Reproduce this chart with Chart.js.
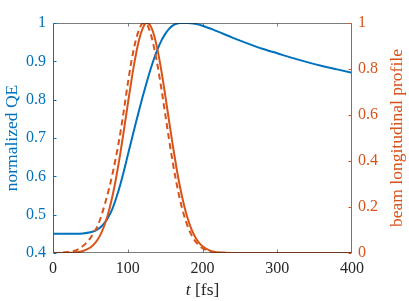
<!DOCTYPE html>
<html>
<head>
<meta charset="utf-8">
<script src="https://cdn.jsdelivr.net/npm/chart.js@4.4.0/dist/chart.umd.min.js"></script>
<style>
    html, body { margin: 0; padding: 0; background: #ffffff; }
    #wrap { width: 409px; height: 301px; }
</style>
</head>
<body>
<div id="wrap"><canvas id="qeChart" width="409" height="301"></canvas></div>
<script>
// tiempo [fs] y QE normalizada (eje izquierdo)
const tQE = [0, 10, 20, 30, 40, 50, 55, 60, 65, 70, 75, 80, 85, 90, 95, 100, 105, 110, 115, 120,
    125, 130, 135, 140, 145, 150, 155, 160, 165, 170, 175, 180, 190, 200, 220, 240, 260, 280, 300,
    320, 340, 360, 380, 400];
const qeValues = [0.450, 0.450, 0.450, 0.450, 0.451, 0.454, 0.457, 0.462, 0.470, 0.481, 0.497, 0.518,
    0.546, 0.578, 0.615, 0.655, 0.694, 0.733, 0.771, 0.808, 0.843, 0.876, 0.906, 0.932, 0.954, 0.971,
    0.984, 0.993, 0.998, 1.000, 1.000, 1.000, 0.998, 0.993, 0.978, 0.962, 0.947, 0.933, 0.921, 0.909,
    0.898, 0.888, 0.879, 0.870];

// perfil longitudinal del haz (eje derecho)
const tBeam = [0, 10, 20, 30, 40, 50, 55, 60, 65, 70, 75, 80, 85, 90, 95, 100, 105, 110, 115, 120,
    125, 130, 135, 140, 145, 150, 155, 160, 165, 170, 175, 180, 185, 190, 195, 200, 210, 220, 230,
    240, 260, 300, 350, 400];
const beamSolid = [0, 0.0002, 0.0007, 0.0026, 0.0084, 0.0238, 0.0383, 0.0597, 0.090, 0.1315, 0.186,
    0.254, 0.337, 0.432, 0.537, 0.646, 0.752, 0.847, 0.925, 0.977, 1.000, 0.990, 0.949, 0.881, 0.792,
    0.689, 0.580, 0.473, 0.374, 0.286, 0.212, 0.152, 0.105, 0.071, 0.046, 0.029, 0.0104, 0.0033,
    0.0009, 0.0002, 0, 0, 0, 0];
const beamDashed = [0, 0.001, 0.004, 0.011, 0.030, 0.065, 0.090, 0.120, 0.165, 0.220, 0.280, 0.350,
    0.430, 0.520, 0.625, 0.735, 0.835, 0.915, 0.970, 0.998, 0.995, 0.960, 0.897, 0.813, 0.714, 0.607,
    0.499, 0.398, 0.308, 0.230, 0.167, 0.118, 0.080, 0.053, 0.034, 0.021, 0.0072, 0.0022, 0.0006,
    0.0001, 0, 0, 0, 0];

// marcas de los ejes
const xTicks = [0, 100, 200, 300, 400];
const qeTicks = [0.4, 0.5, 0.6, 0.7, 0.8, 0.9, 1];
const beamTicks = [0, 0.2, 0.4, 0.6, 0.8, 1];

const azul = "#0072BD";
const naranja = "#D95319";
const gris = "#262626";
const fuente = "'Liberation Serif', 'DejaVu Serif', serif";

function pares(xs, ys) {
    return xs.map((x, i) => ({ x: x, y: ys[i] }));
}

// marco, marcas internas y títulos de los ejes
const marcoPlugin = {
    id: "marco",
    afterDatasetsDraw(chart) {
        const ctx = chart.ctx;
        const a = chart.chartArea;
        const sx = chart.scales.x, sy = chart.scales.y, sy1 = chart.scales.y1;
        const L = a.left + 0.5, R = a.right - 0.5, T = a.top + 0.5, B = a.bottom - 0.5;
        const tick = 3;
        ctx.save();
        ctx.lineWidth = 1;

        ctx.strokeStyle = "rgba(38,38,38,0.6)";
        ctx.beginPath();
        ctx.moveTo(L, T); ctx.lineTo(R, T);
        ctx.moveTo(L, B); ctx.lineTo(R, B);
        xTicks.forEach(v => {
            if (v === xTicks[0] || v === xTicks[xTicks.length - 1]) return;
            const px = Math.round(sx.getPixelForValue(v)) + 0.5;
            ctx.moveTo(px, B); ctx.lineTo(px, B - tick);
            ctx.moveTo(px, T); ctx.lineTo(px, T + tick);
        });
        ctx.stroke();

        ctx.strokeStyle = azul;
        ctx.beginPath();
        ctx.moveTo(L, T); ctx.lineTo(L, B);
        qeTicks.forEach(v => {
            const py = Math.round(sy.getPixelForValue(v)) + 0.5;
            ctx.moveTo(L, py); ctx.lineTo(L + tick, py);
        });
        ctx.stroke();

        ctx.strokeStyle = naranja;
        ctx.beginPath();
        ctx.moveTo(R, T); ctx.lineTo(R, B);
        beamTicks.forEach(v => {
            const py = Math.round(sy1.getPixelForValue(v)) + 0.5;
            ctx.moveTo(R, py); ctx.lineTo(R - tick, py);
        });
        ctx.stroke();

        // títulos
        const midY = (a.top + a.bottom) / 2;
        ctx.textBaseline = "middle";
        ctx.textAlign = "center";
        ctx.font = "17.5px " + fuente;

        ctx.save();
        ctx.fillStyle = azul;
        ctx.translate(12, midY);
        ctx.rotate(-Math.PI / 2);
        ctx.fillText("normalized QE", 0, 0);
        ctx.restore();

        ctx.save();
        ctx.fillStyle = naranja;
        ctx.translate(397, midY);
        ctx.rotate(-Math.PI / 2);
        ctx.fillText("beam longitudinal profile", 0, 0);
        ctx.restore();

        // "t [fs]" con la t en cursiva
        ctx.fillStyle = gris;
        ctx.textAlign = "left";
        const fItal = "italic 17.5px " + fuente;
        const fNorm = "17.5px " + fuente;
        ctx.font = fItal;
        const w1 = ctx.measureText("t").width;
        ctx.font = fNorm;
        const w2 = ctx.measureText(" [fs]").width;
        const x0 = (a.left + a.right) / 2 - (w1 + w2) / 2;
        ctx.font = fItal;
        ctx.fillText("t", x0, 290);
        ctx.font = fNorm;
        ctx.fillText(" [fs]", x0 + w1, 290);

        ctx.restore();
    }
};

const ctx = document.getElementById("qeChart").getContext("2d");
new Chart(ctx, {
    type: "line",
    data: {
        datasets: [
            {
                label: "QE",
                data: pares(tQE, qeValues),
                yAxisID: "y",
                borderColor: azul,
                borderWidth: 2,
                pointRadius: 0,
                cubicInterpolationMode: "monotone",
                order: 3
            },
            {
                label: "perfil (línea)",
                data: pares(tBeam, beamSolid),
                yAxisID: "y1",
                borderColor: naranja,
                borderWidth: 2,
                pointRadius: 0,
                cubicInterpolationMode: "monotone",
                order: 2
            },
            {
                label: "perfil (trazos)",
                data: pares(tBeam, beamDashed),
                yAxisID: "y1",
                borderColor: naranja,
                borderWidth: 2,
                borderDash: [6, 4],
                pointRadius: 0,
                cubicInterpolationMode: "monotone",
                order: 1
            }
        ]
    },
    options: {
        responsive: false,
        animation: false,
        devicePixelRatio: 1,
        layout: { padding: { top: 23, left: 0, right: 0, bottom: 0 } },
        plugins: {
            legend: { display: false },
            tooltip: { enabled: false },
            title: { display: false }
        },
        scales: {
            x: {
                type: "linear",
                min: 0,
                max: 400,
                grid: { display: false, drawTicks: false },
                border: { display: false },
                afterBuildTicks: s => { s.ticks = xTicks.map(v => ({ value: v })); },
                ticks: {
                    color: gris,
                    padding: 6,
                    maxRotation: 0,
                    font: { family: fuente, size: 16 },
                    callback: v => String(v)
                },
                afterFit: s => { s.height = 48; }
            },
            y: {
                type: "linear",
                position: "left",
                min: 0.4,
                max: 1,
                grid: { display: false, drawTicks: false },
                border: { display: false },
                afterBuildTicks: s => { s.ticks = qeTicks.map(v => ({ value: v })); },
                ticks: {
                    color: azul,
                    padding: 7,
                    font: { family: fuente, size: 16 },
                    callback: v => String(v)
                },
                afterFit: s => { s.width = 53; }
            },
            y1: {
                type: "linear",
                position: "right",
                min: 0,
                max: 1,
                grid: { display: false, drawTicks: false },
                border: { display: false },
                afterBuildTicks: s => { s.ticks = beamTicks.map(v => ({ value: v })); },
                ticks: {
                    color: naranja,
                    padding: 6,
                    font: { family: fuente, size: 16 },
                    callback: v => String(v)
                },
                afterFit: s => { s.width = 57; }
            }
        }
    },
    plugins: [marcoPlugin]
});
</script>
</body>
</html>
